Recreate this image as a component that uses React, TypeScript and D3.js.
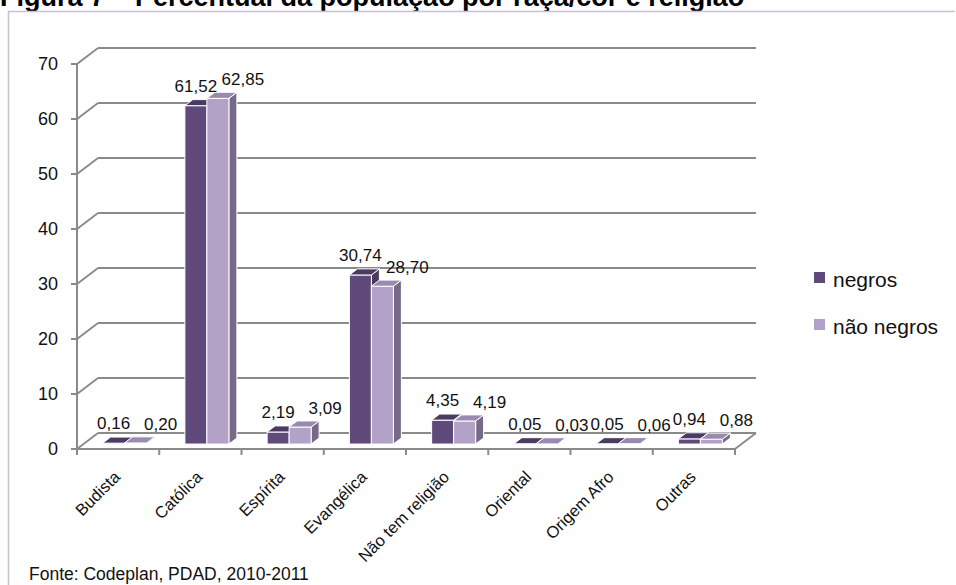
import React from "react";
import * as d3 from "d3";

const categories = ["Budista", "Católica", "Espírita", "Evangélica", "Não tem religião", "Oriental", "Origem Afro", "Outras"];
const negros = [0.16, 61.52, 2.19, 30.74, 4.35, 0.05, 0.05, 0.94];
const naoNegros = [0.2, 62.85, 3.09, 28.7, 4.19, 0.03, 0.06, 0.88];
const seriesNames = ["negros", "não negros"];
const yTicks = [0, 10, 20, 30, 40, 50, 60, 70];
const title = "Figura 7 – Percentual da população por raça/cor e religião";
const source = "Fonte: Codeplan, PDAD, 2010-2011";

const W = 956;
const H = 585;
const FONT = "'Liberation Sans', Arial, Helvetica, sans-serif";

const COLORS = [
  { front: "#604a7b", top: "#4b3a62", side: "#4a3a5e" },
  { front: "#b3a2c7", top: "#9a89b0", side: "#776a88" },
];

export default function App() {
  const x = d3.scaleBand<string>().domain(categories).range([77, 735]);
  const y = d3.scaleLinear().domain([0, 70]).range([449, 64]);
  const DX = 21;
  const DY = 16;
  const f0 = 0.31;
  const f1 = 0.69;
  const bdx = (f1 - f0) * DX;
  const bdy = (f1 - f0) * DY;
  const xs = d3.scaleBand<number>().domain([0, 1]).range([-22, 22]);
  const fmt = (v: number) => d3.format(".2f")(v).replace(".", ",");
  const series = [negros, naoNegros];
  const gridColor = "#8a8a8a";

  const y0 = y(0);
  const baseY = y0 - f0 * DY;

  return (
    <svg width={W} height={H} style={{ position: "absolute", left: 0, top: 0, background: "#fff" }} fontFamily={FONT}>
      {/* title */}
      <text x={0} y={6} fontSize={27} fontWeight="bold" fill="#000">{title}</text>
      {/* frame */}
      <path d={`M8.5,${H} L8.5,11.5 L955,11.5`} fill="none" stroke="#c6c0d8" strokeWidth={1.5} />

      {/* gridlines / walls */}
      {yTicks.map((t) => {
        const yy = y(t);
        return (
          <g key={"g" + t}>
            <line x1={77} y1={yy} x2={77 + DX} y2={yy - DY} stroke={gridColor} strokeWidth={2} />
            <line x1={77 + DX} y1={yy - DY} x2={735 + DX} y2={yy - DY} stroke={gridColor} strokeWidth={2} />
            <line x1={71} y1={yy} x2={77} y2={yy} stroke={gridColor} strokeWidth={2} />
            <text x={58} y={yy} dy="0.35em" textAnchor="end" fontSize={18} fill="#111">{t}</text>
          </g>
        );
      })}
      {/* y axis */}
      <line x1={77} y1={y(0)} x2={77} y2={y(70)} stroke={gridColor} strokeWidth={2} />
      {/* floor */}
      <line x1={77} y1={y0} x2={735} y2={y0} stroke={gridColor} strokeWidth={2} />
      <line x1={735} y1={y0} x2={735 + DX} y2={y0 - DY} stroke={gridColor} strokeWidth={2} />
      {d3.range(categories.length + 1).map((i) => {
        const xx = 77 + i * x.bandwidth();
        return <line key={"t" + i} x1={xx} y1={y0} x2={xx} y2={y0 + 6} stroke={gridColor} strokeWidth={2} />;
      })}

      {/* bars */}
      {categories.map((c, ci) => (
        <g key={"b" + c}>
          {series.map((s, si) => {
            const v = s[ci];
            const bx = (x(c) as number) + x.bandwidth() / 2 + f0 * DX + (xs(si) as number);
            const w = xs.bandwidth();
            const yt = baseY - (y0 - y(v));
            const col = COLORS[si];
            return (
              <g key={si}>
                <path
                  d={`M${bx + w},${yt} L${bx + w + bdx},${yt - bdy} L${bx + w + bdx},${baseY - bdy} L${bx + w},${baseY} Z`}
                  fill={col.side}
                  stroke="#fff"
                  strokeWidth={1}
                />
                <rect x={bx} y={yt} width={w} height={baseY - yt} fill={col.front} stroke="#fff" strokeWidth={1} />
                <path
                  d={`M${bx},${yt} L${bx + w},${yt} L${bx + w + bdx},${yt - bdy} L${bx + bdx},${yt - bdy} Z`}
                  fill={col.top}
                  stroke="#fff"
                  strokeWidth={1}
                />
              </g>
            );
          })}
        </g>
      ))}

      {/* data labels */}
      {categories.map((c, ci) =>
        series.map((s, si) => {
          const v = s[ci];
          const bx = (x(c) as number) + x.bandwidth() / 2 + f0 * DX + (xs(si) as number) + xs.bandwidth() / 2;
          const yt = baseY - (y0 - y(v)) - bdy;
          const lx = si === 0 ? bx : bx + 25;
          const ly = si === 0 ? yt - 8 : yt - 7;
          return (
            <text key={`l${ci}-${si}`} x={lx} y={ly} textAnchor="middle" fontSize={17} fill="#111">
              {fmt(v)}
            </text>
          );
        })
      )}

      {/* category labels */}
      {categories.map((c) => {
        const cx = (x(c) as number) + x.bandwidth() / 2 + 3;
        const cy = 478;
        return (
          <text key={"c" + c} x={cx} y={cy} textAnchor="end" fontSize={16.5} fill="#111" transform={`rotate(-45 ${cx} ${cy})`}>
            {c}
          </text>
        );
      })}

      {/* legend */}
      {seriesNames.map((n, i) => (
        <g key={"lg" + n} transform={`translate(814, ${272 + i * 47})`}>
          <rect x={0} y={0} width={11} height={11} fill={COLORS[i].front} />
          <text x={19} y={15} fontSize={21} fill="#111">{n}</text>
        </g>
      ))}

      {/* source */}
      <text x={29} y={580} fontSize={17.5} fill="#111">{source}</text>
    </svg>
  );
}
